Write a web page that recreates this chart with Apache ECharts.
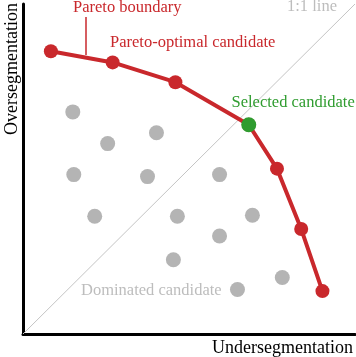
<!DOCTYPE html>
<html>
<head>
<meta charset="utf-8">
<script src="https://cdn.jsdelivr.net/npm/echarts@6/dist/echarts.min.js"></script>
<style>
html, body { margin: 0; padding: 0; background: #fff; }
#chart { width: 356px; height: 357px; }
</style>
</head>
<body>
<div id="chart"></div>
<script>
// pareto front (undersegmentation, oversegmentation), selected one included
var paretoX = [8.4, 27.0, 45.9, 68.0, 76.5, 83.8, 90.2];
var paretoY = [85.7, 82.3, 76.3, 63.4, 50.1, 31.8, 13.0];
var selectedX = [68.0];
var selectedY = [63.4];
// dominated candidates
var dominatedX = [15.0, 25.5, 40.2, 15.3, 37.5, 59.2, 21.6, 46.5, 69.1, 59.2, 45.3, 78.1, 64.6];
var dominatedY = [67.3, 57.7, 61.0, 48.3, 47.7, 48.3, 35.7, 35.7, 36.0, 29.7, 22.5, 17.1, 13.5];
var diagX = [0, 100];
var diagY = [0, 100];

var RED = '#c9282c';
var GREEN = '#2f9c2f';
var GREY = '#b4b4b4';
var FONT = 'Liberation Serif';

function zip(xs, ys) {
    var out = [];
    for (var i = 0; i < xs.length; i++) {
        out.push([xs[i], ys[i]]);
    }
    return out;
}

function set_chart() {
    var option = {
        animation: false,
        grid: {
            left: 23,
            top: 3.5,
            width: 332.5,
            height: 332.5
        },
        xAxis: {
            type: 'value',
            min: 0,
            max: 100,
            name: 'Undersegmentation',
            nameLocation: 'end',
            nameGap: 0,
            nameTextStyle: {
                fontFamily: FONT,
                fontSize: 18,
                color: '#000',
                align: 'right',
                verticalAlign: 'top',
                padding: [5, 2, 0, 0]
            },
            axisLine: {show: true, lineStyle: {color: '#000', width: 3}},
            axisTick: {show: false},
            axisLabel: {show: false},
            splitLine: {show: false}
        },
        yAxis: {
            type: 'value',
            min: 0,
            max: 100,
            name: 'Oversegmentation',
            nameLocation: 'end',
            nameRotate: 90,
            nameGap: 1,
            nameTextStyle: {
                fontFamily: FONT,
                fontSize: 18,
                color: '#000',
                align: 'right',
                verticalAlign: 'bottom',
                padding: [0, 0, 2, 0]
            },
            axisLine: {show: true, lineStyle: {color: '#000', width: 3}},
            axisTick: {show: false},
            axisLabel: {show: false},
            splitLine: {show: false}
        },
        series: [
            {
                name: '1:1 line',
                type: 'line',
                data: zip(diagX, diagY),
                symbol: 'none',
                lineStyle: {color: '#c4c4c4', width: 1},
                z: 1
            },
            {
                name: 'Dominated candidate',
                type: 'scatter',
                data: zip(dominatedX, dominatedY),
                symbolSize: 15,
                itemStyle: {color: GREY, opacity: 1},
                z: 2
            },
            {
                name: 'Pareto boundary',
                type: 'line',
                data: zip(paretoX, paretoY),
                symbol: 'circle',
                symbolSize: 14,
                showAllSymbol: true,
                lineStyle: {color: RED, width: 4},
                itemStyle: {color: RED, borderWidth: 0},
                z: 3
            },
            {
                name: 'Selected candidate',
                type: 'scatter',
                data: zip(selectedX, selectedY),
                symbolSize: 15,
                itemStyle: {color: GREEN, opacity: 1},
                z: 4
            }
        ],
        graphic: [
            {
                type: 'text', x: 73, y: 7.5, z: 10,
                style: {text: 'Pareto boundary', fill: RED, font: '16.5px "' + FONT + '"', verticalAlign: 'middle'}
            },
            {
                type: 'line', z: 10,
                shape: {x1: 86, y1: 17, x2: 86, y2: 55},
                style: {stroke: RED, lineWidth: 1.5}
            },
            {
                type: 'text', x: 110, y: 42.5, z: 10,
                style: {text: 'Pareto-optimal candidate', fill: RED, font: '16.5px "' + FONT + '"', verticalAlign: 'middle'}
            },
            {
                type: 'text', x: 287, y: 7, z: 10,
                style: {text: '1:1 line', fill: '#bdbdbd', font: '16.5px "' + FONT + '"', verticalAlign: 'middle'}
            },
            {
                type: 'text', x: 231.5, y: 102.7, z: 10,
                style: {text: 'Selected candidate', fill: GREEN, font: '16.5px "' + FONT + '"', verticalAlign: 'middle'}
            },
            {
                type: 'text', x: 81, y: 291, z: 10,
                style: {text: 'Dominated candidate', fill: '#bdbdbd', font: '16.5px "' + FONT + '"', verticalAlign: 'middle'}
            }
        ]
    };
    var dom = document.getElementById('chart');
    var myChart = echarts.init(dom);
    myChart.setOption(option, true);
}

window.onload = function () {
    set_chart();
};
</script>
</body>
</html>
